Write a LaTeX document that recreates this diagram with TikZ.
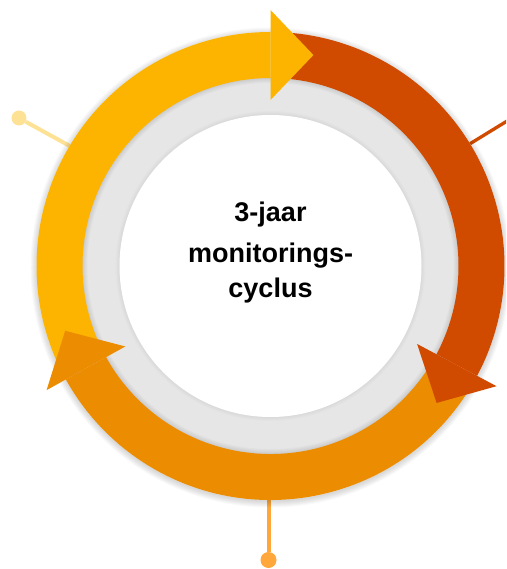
\documentclass[tikz,border=0pt]{standalone}
\usepackage{fontspec}
\setmainfont{Liberation Sans}
\definecolor{yarccol}{RGB}{253,180,0}
\definecolor{rarccol}{RGB}{208,75,0}
\definecolor{oarccol}{RGB}{236,140,0}
\definecolor{ringcol}{RGB}{230,230,230}
\definecolor{yleadcol}{RGB}{253,226,150}
\definecolor{oleadcol}{RGB}{255,167,58}

\begin{document}
\begin{tikzpicture}[x=1pt,y=1pt]
\tikzset{lead/.style={line width=4pt},
  leaddot/.style={circle,inner sep=0pt,minimum size=15pt},
  ttl/.style={font=\bfseries\fontsize{27}{38}\selectfont,anchor=base,inner sep=0pt}}
\useasboundingbox (-270.5,-303) rectangle (235.5,266);
\clip (-270.5,-303) rectangle (235.5,266);

\node[leaddot,fill=yleadcol] (ydot) at (-251.5,148) {};
\node[leaddot,fill=oleadcol,minimum size=16pt] (odot) at (-2,-294) {};
\coordinate (yend) at (149:220);
\coordinate (rin) at (31.5:220);
\coordinate (rout) at (31.5:300);
\coordinate (oend) at (-2,-220);
\draw[lead,yleadcol] (ydot) -- (yend);
\draw[lead,rarccol,line width=3.3pt] (rin) -- (rout);
\draw[lead,oleadcol] (odot) -- (oend);

\foreach \k in {1,...,7}
  \fill[black,opacity=0.022] (0,-1.5) circle (233+\k);
\fill[ringcol] (0,0) circle (234);
\foreach \k in {1,...,6}
  \fill[black,opacity=0.02,even odd rule] (0,0) circle (189) circle (189-\k);
\foreach \k in {1,...,4}
  \fill[black,opacity=0.012] (0,0) circle (151+\k);
\fill[white] (0,0) circle (151);

\foreach \s/\b/\c in {204/90/yarccol,86/-28/rarccol,-32/-151/oarccol}
  \fill[\c] (\s:234) arc[start angle=\s,end angle=\b,radius=234]
    -- (\b:188) arc[start angle=\b,end angle=\s,radius=188] -- cycle;
\foreach \b/\c in {90/yarccol,-28/rarccol,-151/oarccol}
  \fill[\c] (\b:256) -- ({\b-11.5}:215.3) -- (\b:166) -- cycle;

\node[ttl] (ttla) at (0,44) {3-jaar};
\node[ttl] (ttlb) at (0,3) {monitorings-};
\node[ttl] (ttlc) at (0,-32) {cyclus};
\end{tikzpicture}
\end{document}
